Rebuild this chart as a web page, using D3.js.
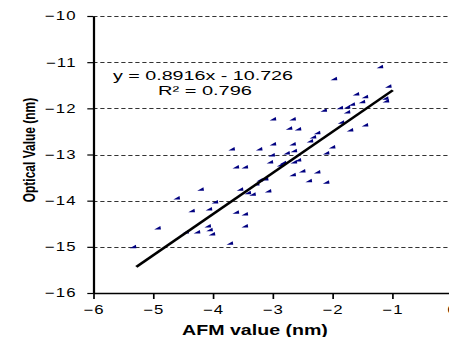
<!DOCTYPE html>
<html>
<head>
<meta charset="utf-8">
<script src="https://cdn.jsdelivr.net/npm/d3@7"></script>
<style>
  body { margin: 0; background: #fff; }
  svg { display: block; }
  text { font-family: "Liberation Sans", Arial, sans-serif; }
</style>
</head>
<body>
<svg id="chart" width="449" height="337"></svg>
<script>
// AFM value (nm) vs optical value (nm)
const afm = [
  -5.33, -4.92, -4.60, -4.45, -4.35, -4.26, -4.20, -4.08, -4.06, -4.05,
  -4.01, -3.96, -3.71, -3.68, -3.61, -3.61, -3.54, -3.46, -3.46, -3.46,
  -3.41, -3.33, -3.27, -3.21, -3.12, -3.22, -3.07, -3.04, -2.99, -2.99,
  -3.01, -2.87, -2.82, -2.76, -2.72, -2.66, -2.66, -2.64, -2.57, -2.66,
  -2.57, -2.50, -2.39, -2.37, -2.32, -2.25, -2.25, -2.14, -2.10, -2.10,
  -2.00, -1.97, -1.87, -1.85, -1.75, -1.75, -1.70, -1.67, -1.60, -1.50,
  -1.45, -1.45, -1.20, -1.11, -1.10, -1.06, -2.64
];
const optical = [
  -15.00, -14.59, -13.94, -14.68, -14.22, -14.68, -13.75, -14.55, -14.18, -14.63,
  -14.72, -14.03, -14.92, -12.88, -13.27, -14.25, -13.75, -13.27, -14.29, -14.55,
  -13.83, -13.86, -13.64, -13.55, -13.53, -12.88, -13.79, -13.16, -12.23, -12.77,
  -13.01, -13.23, -13.18, -12.97, -12.43, -12.23, -12.77, -13.16, -13.12, -13.44,
  -12.45, -13.36, -13.57, -12.71, -12.62, -12.53, -13.38, -12.04, -12.97, -13.60,
  -12.84, -11.36, -11.99, -12.30, -11.97, -12.08, -12.47, -11.91, -11.69, -11.86,
  -11.75, -12.36, -11.10, -11.78, -11.84, -11.52, -12.92
];
const xTicks = [-6, -5, -4, -3, -2, -1, 0];
const yTicks = [-16, -15, -14, -13, -12, -11, -10];
const slope = 0.8916;
const intercept = -10.726;
const eqLabel = "y = 0.8916x - 10.726";
const r2Label = "R² = 0.796";

// the picture is stretched sideways, so draw in narrow units and widen the group
const sx = 1.4;
const svg = d3.select('#chart');
const g = svg.append('g').attr('transform', 'scale(' + sx + ',1)');

const x = d3.scaleLinear().domain([-6, 0]).range([93.3 / sx, 452 / sx]);
const y = d3.scaleLinear().domain([-16, -10]).range([293, 16]);

// dashed grid lines
g.selectAll('.grid')
  .data(yTicks.filter(d => d !== -16))
  .enter()
  .append('line')
  .attr('x1', x(-6))
  .attr('x2', x(0))
  .attr('y1', d => Math.round(y(d)) + 0.5)
  .attr('y2', d => Math.round(y(d)) + 0.5)
  .attr('stroke', '#333')
  .attr('stroke-width', 1)
  .attr('stroke-dasharray', '3,2');

// axes
const xAxis = g.append('g')
  .attr('transform', 'translate(0,293)')
  .call(d3.axisBottom(x).tickValues(xTicks).tickFormat(d3.format('d'))
    .tickSize(6).tickSizeOuter(0).tickPadding(6.5));

const yAxis = g.append('g')
  .attr('transform', 'translate(' + x(-6) + ',0)')
  .call(d3.axisLeft(y).tickValues(yTicks).tickFormat(d3.format('d'))
    .tickSize(6 / sx).tickSizeOuter(0).tickPadding(7.5));

[xAxis, yAxis].forEach(a => {
  a.select('.domain').attr('stroke', '#000').attr('stroke-width', 1.6);
  a.selectAll('.tick line').attr('stroke', '#000').attr('stroke-width', 1.2);
  a.selectAll('text')
    .attr('fill', '#000')
    .style('font-size', '12px')
    .style('letter-spacing', '0.9px')
    .style('font-family', '"Liberation Sans", Arial, sans-serif');
});

// points
const pts = afm.map((v, i) => ({ x: v, y: optical[i] }));
g.selectAll('.pt')
  .data(pts)
  .enter()
  .append('path')
  .attr('d', 'M-2.6,1.5 L2.2,1.5 L1.8,-2 Z')
  .attr('transform', d => 'translate(' + x(d.x) + ',' + y(d.y) + ')')
  .attr('fill', '#000080');

// trend line over the data range
const xr = [-5.28, -0.99];
g.append('line')
  .attr('x1', x(xr[0]))
  .attr('y1', y(slope * xr[0] + intercept))
  .attr('x2', x(xr[1]))
  .attr('y2', y(slope * xr[1] + intercept))
  .attr('stroke', '#000')
  .attr('stroke-width', 2.2);

// equation
g.append('text')
  .attr('x', 113 / sx).attr('y', 80)
  .attr('textLength', 180 / sx)
  .attr('lengthAdjust', 'spacingAndGlyphs')
  .style('font-size', '13px')
  .text(eqLabel);
g.append('text')
  .attr('x', 158 / sx).attr('y', 95)
  .attr('textLength', 94 / sx)
  .attr('lengthAdjust', 'spacingAndGlyphs')
  .style('font-size', '13px')
  .text(r2Label);

// axis titles
g.append('text')
  .attr('x', 255 / sx).attr('y', 335)
  .attr('text-anchor', 'middle')
  .style('font-size', '14px')
  .style('font-weight', 'bold')
  .text('AFM value (nm)');
g.append('text')
  .attr('transform', 'translate(' + (29 / sx) + ',150) rotate(-90)')
  .attr('text-anchor', 'middle')
  .attr('dy', '0.35em')
  .style('font-size', '12px')
  .style('font-weight', 'bold')
  .text('Optical Value (nm)');
</script>
</body>
</html>
